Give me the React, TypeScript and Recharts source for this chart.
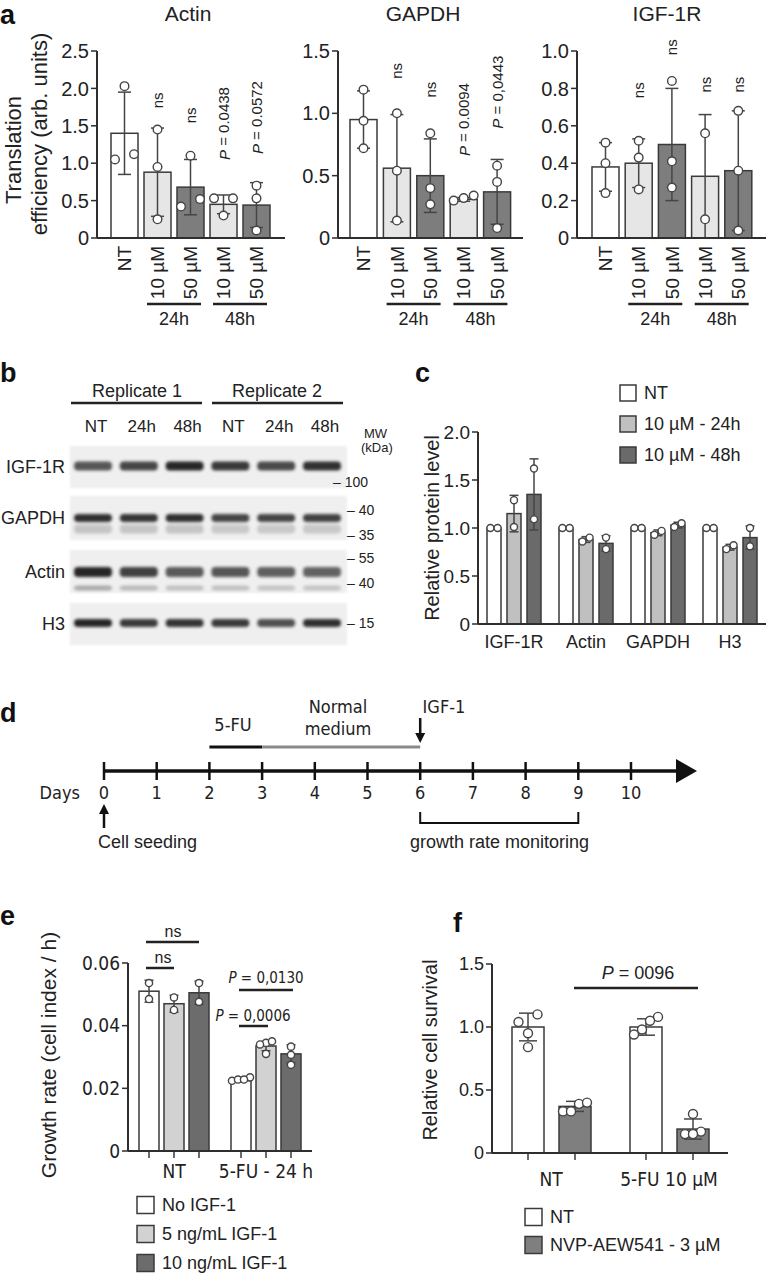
import React from 'react';
import { BarChart, Bar, XAxis, YAxis } from 'recharts';

const F = '"Liberation Sans", Arial, Helvetica, sans-serif';
const FN = '"Liberation Sans Narrow", "Arial Narrow", "DejaVu Sans Condensed", sans-serif';
const INK = '#222';
const EDGE = '#3a3a3a';

// ---------- panel a : translation efficiency ----------
const aKeys = ['NT', '10-24', '50-24', '10-48', '50-48'];
const aTickLabels = ['NT', '10 µM', '50 µM', '10 µM', '50 µM'];
const aGroupLabels = ['24h', '48h'];

const actinMean = [1.4, 0.88, 0.68, 0.45, 0.44];
const actinSd = [0.55, 0.59, 0.37, 0.125, 0.3];
const actinPts = [[2.03, 1.05, 1.12], [1.45, 0.95, 0.25], [1.1, 0.42, 0.52], [0.53, 0.53, 0.3], [0.7, 0.53, 0.1]];
const actinNote = ['', 'ns', 'ns', 'P = 0.0438', 'P = 0.0572'];
const actinNoteAt = [0, 1.84, 1.64, 1.53, 1.61];

const gapdhMean = [0.95, 0.56, 0.5, 0.31, 0.37];
const gapdhSd = [0.23, 0.43, 0.295, 0.015, 0.26];
const gapdhPts = [[1.19, 0.94, 0.72], [1.0, 0.54, 0.14], [0.84, 0.4, 0.27], [0.3, 0.34, 0.32], [0.58, 0.45, 0.08]];
const gapdhNote = ['', 'ns', 'ns', 'P = 0.0094', 'P = 0,0443'];
const gapdhNoteAt = [0, 1.34, 1.19, 0.95, 1.17];

const igfMean = [0.38, 0.4, 0.5, 0.33, 0.36];
const igfSd = [0.13, 0.13, 0.3, 0.33, 0.32];
const igfPts = [[0.51, 0.4, 0.24], [0.52, 0.43, 0.26], [0.84, 0.41, 0.27], [0.56, 0.1], [0.68, 0.36, 0.04]];
const igfNote = ['', 'ns', 'ns', 'ns', 'ns'];
const igfNoteAt = [0, 0.79, 1.02, 0.82, 0.82];

// ---------- panel b : western blot ----------
const laneLabels = ['NT', '24h', '48h', 'NT', '24h', '48h'];
const replicateLabels = ['Replicate 1', 'Replicate 2'];
const igfBand = [0.72, 0.8, 0.95, 0.86, 0.78, 0.9];
const gapdhBand = [0.9, 0.88, 0.9, 0.8, 0.8, 0.82];
const actinBand = [0.95, 0.82, 0.7, 0.72, 0.68, 0.66];
const actinLowBand = [0.32, 0.25, 0.22, 0.22, 0.2, 0.2];
const h3Band = [0.95, 0.85, 0.88, 0.85, 0.75, 0.9];

// ---------- panel c : relative protein level ----------
const cCats = ['IGF-1R', 'Actin', 'GAPDH', 'H3'];
const cNtMean = [1, 1, 1, 1];
const cNtSd = [0, 0, 0, 0];
const cNtPts = [[1, 1], [1, 1], [1, 1], [1, 1]];
const c24Mean = [1.15, 0.88, 0.95, 0.8];
const c24Sd = [0.19, 0.03, 0.03, 0.03];
const c24Pts = [[1.29, 1.01], [0.9, 0.86], [0.97, 0.93], [0.82, 0.78]];
const c48Mean = [1.35, 0.84, 1.03, 0.9];
const c48Sd = [0.37, 0.08, 0.03, 0.12];
const c48Pts = [[1.62, 1.09], [0.9, 0.78], [1.05, 1.01], [1.0, 0.81]];
const cLegend = ['NT', '10 µM - 24h', '10 µM - 48h'];

// ---------- panel d : timeline ----------
const days = [0, 1, 2, 3, 4, 5, 6, 7, 8, 9, 10];

// ---------- panel e : growth rate ----------
const eCats = ['NT', '5-FU - 24 h'];
const eNoMean = [0.051, 0.0225];
const eNoSd = [0.0035, 0.0005];
const eNoPts = [[0.0536, 0.0485], [0.0224, 0.0228, 0.0235, 0.0228]];
const e5Mean = [0.047, 0.0335];
const e5Sd = [0.0027, 0.0015];
const e5Pts = [[0.049, 0.045], [0.0345, 0.035, 0.034, 0.031]];
const e10Mean = [0.0505, 0.031];
const e10Sd = [0.0037, 0.0029];
const e10Pts = [[0.0536, 0.0476], [0.0333, 0.0307, 0.0275]];
const eLegend = ['No IGF-1', '5 ng/mL IGF-1', '10 ng/mL IGF-1'];

// ---------- panel f : cell survival ----------
const fCats = ['NT', '5-FU 10 µM'];
const fNtMean = [1.0, 1.0];
const fNtSd = [0.11, 0.065];
const fNtPts = [[1.04, 1.1, 0.95, 0.84], [1.08, 1.05, 0.98, 0.94]];
const fNvpMean = [0.37, 0.19];
const fNvpSd = [0.04, 0.08];
const fNvpPts = [[0.39, 0.4, 0.33, 0.33], [0.31, 0.17, 0.15, 0.15]];
const fLegend = ['NT', 'NVP-AEW541 - 3 µM'];

const GREY = {
  white: '#ffffff',
  aLight: '#e6e6e6',
  aDark: '#7d7d7d',
  cLight: '#c0c0c0',
  cDark: '#6a6a6a',
  eLight: '#d2d2d2',
  eDark: '#6c6c6c',
  fDark: '#7f7f7f',
};
const aFills = [GREY.white, GREY.aLight, GREY.aDark, GREY.aLight, GREY.aDark];

// spread overlapping dots sideways (cluster-based jitter)
function jitter(ys: number[], vals: number[], r: number, spread: number, pair: number) {
  const order = vals.map((_, i) => i).sort((a, b) => vals[a] - vals[b]);
  const clusters: number[][] = [];
  order.forEach((i) => {
    const last = clusters[clusters.length - 1];
    if (last && Math.abs(ys[last[last.length - 1]] - ys[i]) < 2 * r + 0.5) last.push(i);
    else clusters.push([i]);
  });
  const off = vals.map(() => 0);
  clusters.forEach((c) => {
    const k = c.length;
    c.forEach((i, j) => {
      off[i] = k === 2 ? (j === 0 ? -pair : pair) : (j - (k - 1) / 2) * spread;
    });
  });
  return off;
}

function DotBar(p: any) {
  const { x, y, width, height, payload, index, s, st } = p;
  const row = payload;
  const mean = row[s.mean];
  const base = y + height;
  const k = mean ? height / mean : 0;
  const Y = (v: number) => base - v * k;
  const cx = x + width / 2;
  const sd = row[s.sd] || 0;
  const pts: number[] = row[s.pts] || [];
  const ys = pts.map(Y);
  const off = jitter(ys, pts, st.r, st.spread, st.pair);
  const fill = s.fills ? s.fills[index] : s.fill;
  const note = s.note ? row[s.note] : '';
  return (
    <g>
      <rect x={x} y={y} width={width} height={height} fill={fill} stroke={EDGE} strokeWidth={1.5} />
      {st.xTick && <line x1={cx} x2={cx} y1={base} y2={base + 7} stroke={EDGE} strokeWidth={1.5} />}
      {sd > 0 && (
        <g stroke="#454545" strokeWidth={1.5}>
          <line x1={cx} x2={cx} y1={Y(mean + sd)} y2={Y(mean - sd)} />
          <line x1={cx - st.cap} x2={cx + st.cap} y1={Y(mean + sd)} y2={Y(mean + sd)} />
          <line x1={cx - st.cap} x2={cx + st.cap} y1={Y(mean - sd)} y2={Y(mean - sd)} />
        </g>
      )}
      {ys.map((yy, i) => (
        <circle key={i} cx={cx + off[i]} cy={yy} r={st.r} fill="#fff" stroke="#454545" strokeWidth={1.4} />
      ))}
      {note && (
        <text
          transform={`translate(${cx},${Y(row[s.noteAt])}) rotate(-90)`}
          textAnchor="middle"
          dominantBaseline="central"
          fontSize={15}
          fontFamily={F}
          fill={INK}
        >
          {note.startsWith('P') ? (
            <>
              <tspan fontStyle="italic">P</tspan>
              {note.slice(1)}
            </>
          ) : (
            note
          )}
        </text>
      )}
    </g>
  );
}

function ATick(p: any) {
  const { x, y, payload } = p;
  const i = aKeys.indexOf(payload.value);
  const g = i === 1 ? 0 : i === 3 ? 1 : -1;
  return (
    <g>
      <text
        transform={`translate(${x},${y}) rotate(-90)`}
        textAnchor="end"
        dominantBaseline="central"
        fontSize={19}
        fontFamily={F}
        fill={INK}
      >
        {aTickLabels[i]}
      </text>
      {g >= 0 && (
        <g>
          <line x1={x - 10.5} x2={x + 43.5} y1={y + 58} y2={y + 58} stroke={INK} strokeWidth={2.5} />
          <text x={x + 16.5} y={y + 79} textAnchor="middle" fontSize={18} fontFamily={F} fill={INK}>
            {aGroupLabels[g]}
          </text>
        </g>
      )}
    </g>
  );
}

type Lay = { pl: number; pt: number; pr: number; pb: number; yw: number; xh: number };

const TOPM = 30;

function BarPanel(props: any) {
  const { rows, series, lay, yDomain, yTicks, yFmt, xTick, tickMargin, st, barSize, barGap, pad, yFont, yFam } = props;
  const l: Lay = lay;
  const left = l.pl - l.yw;
  const top = l.pt - TOPM;
  const width = l.pr - left + 10;
  const height = l.pb - top + l.xh + 10;
  return (
    <div style={{ position: 'absolute', left, top }}>
      <BarChart
        width={width}
        height={height}
        data={rows}
        margin={{ top: TOPM, right: 10, bottom: 10, left: 0 }}
        barSize={barSize}
        barGap={barGap}
      >
        <XAxis
          dataKey="key"
          height={l.xh}
          axisLine={{ stroke: '#2e2e2e', strokeWidth: 2 }}
          tickLine={false}
          tick={xTick}
          tickMargin={tickMargin}
          interval={0}
          padding={pad}
        />
        <YAxis
          width={l.yw}
          domain={yDomain}
          ticks={yTicks}
          interval={0}
          tickFormatter={yFmt}
          axisLine={{ stroke: '#2e2e2e', strokeWidth: 2 }}
          tickLine={{ stroke: '#2e2e2e', strokeWidth: 1.5 }}
          tickSize={6}
          tick={{ fontSize: yFont, fill: INK, fontFamily: yFam }}
        />
        {series.map((s: any) => (
          <Bar
            key={s.mean}
            dataKey={s.mean}
            isAnimationActive={false}
            shape={(bp: any) => <DotBar {...bp} s={s} st={st} />}
          />
        ))}
      </BarChart>
    </div>
  );
}

const fmt1 = (v: number) => (v === 0 ? '0' : v.toFixed(1));
const fmt2 = (v: number) => (v === 0 ? '0' : v.toFixed(2));

function aRows(mean: number[], sd: number[], pts: number[][], note: string[], noteAt: number[]) {
  return aKeys.map((key, i) => ({ key, mean: mean[i], sd: sd[i], pts: pts[i], note: note[i], noteAt: noteAt[i] }));
}

const aSeries = [{ mean: 'mean', sd: 'sd', pts: 'pts', fills: aFills, note: 'note', noteAt: 'noteAt' }];
const aStyle = { r: 4.3, cap: 6.5, spread: 10, pair: 9.5, xTick: false };
const aPad = { left: 11, right: 12 };

const cRows = cCats.map((key, i) => ({
  key,
  nt: cNtMean[i], ntSd: cNtSd[i], ntPts: cNtPts[i],
  d24: c24Mean[i], d24Sd: c24Sd[i], d24Pts: c24Pts[i],
  d48: c48Mean[i], d48Sd: c48Sd[i], d48Pts: c48Pts[i],
}));
const cSeries = [
  { mean: 'nt', sd: 'ntSd', pts: 'ntPts', fill: GREY.white },
  { mean: 'd24', sd: 'd24Sd', pts: 'd24Pts', fill: GREY.cLight },
  { mean: 'd48', sd: 'd48Sd', pts: 'd48Pts', fill: GREY.cDark },
];
const cFills = [GREY.white, GREY.cLight, GREY.cDark];

const eRows = eCats.map((key, i) => ({
  key,
  no: eNoMean[i], noSd: eNoSd[i], noPts: eNoPts[i],
  g5: e5Mean[i], g5Sd: e5Sd[i], g5Pts: e5Pts[i],
  g10: e10Mean[i], g10Sd: e10Sd[i], g10Pts: e10Pts[i],
}));
const eSeries = [
  { mean: 'no', sd: 'noSd', pts: 'noPts', fill: GREY.white },
  { mean: 'g5', sd: 'g5Sd', pts: 'g5Pts', fill: GREY.eLight },
  { mean: 'g10', sd: 'g10Sd', pts: 'g10Pts', fill: GREY.eDark },
];
const eFills = [GREY.white, GREY.eLight, GREY.eDark];

const fRows = fCats.map((key, i) => ({
  key,
  nt: fNtMean[i], ntSd: fNtSd[i], ntPts: fNtPts[i],
  nvp: fNvpMean[i], nvpSd: fNvpSd[i], nvpPts: fNvpPts[i],
}));
const fSeries = [
  { mean: 'nt', sd: 'ntSd', pts: 'ntPts', fill: GREY.white },
  { mean: 'nvp', sd: 'nvpSd', pts: 'nvpPts', fill: GREY.fDark },
];
const fFills = [GREY.white, GREY.fDark];

function PanelLetter({ x, y, t }: { x: number; y: number; t: string }) {
  return (
    <text x={x} y={y} fontSize={27} fontWeight="bold" fontFamily={F} fill="#111">
      {t}
    </text>
  );
}

function VLabel({ x, y, t, size }: { x: number; y: number; t: string; size: number }) {
  return (
    <text transform={`translate(${x},${y}) rotate(-90)`} textAnchor="middle" dominantBaseline="central" fontSize={size} fontFamily={F} fill={INK}>
      {t}
    </text>
  );
}

function LegendBox({ x, y, size, fill, label, font }: any) {
  return (
    <g>
      <rect x={x} y={y - size / 2} width={size} height={size} fill={fill} stroke={EDGE} strokeWidth={1.5} />
      <text x={x + size + 8} y={y + font * 0.36} fontSize={font} fontFamily={F} fill={INK}>
        {label}
      </text>
    </g>
  );
}

function Blot() {
  const laneX = laneLabels.map((_, i) => 93 + i * 45.8);
  const strips = [
    { name: 'IGF-1R', top: 446, h: 42, bands: [{ v: igfBand, y: 466, h: 9 }] },
    { name: 'GAPDH', top: 496, h: 44, bands: [{ v: gapdhBand, y: 518, h: 8 }, { v: gapdhBand.map((v) => v * 0.22), y: 529, h: 9 }] },
    { name: 'Actin', top: 550, h: 43, bands: [{ v: actinBand, y: 572, h: 10 }, { v: actinLowBand, y: 588, h: 5 }] },
    { name: 'H3', top: 603, h: 42, bands: [{ v: h3Band, y: 623, h: 8 }] },
  ];
  const mw = [
    { t: '– 100', x: 333, y: 482 },
    { t: '– 40', x: 347, y: 510 },
    { t: '– 35', x: 347, y: 535 },
    { t: '– 55', x: 347, y: 558 },
    { t: '– 40', x: 347, y: 583 },
    { t: '– 15', x: 347, y: 623 },
  ];
  return (
    <g fontFamily={F} fill={INK}>
      <defs>
        <filter id="blur" x="-20%" y="-80%" width="140%" height="260%">
          <feGaussianBlur stdDeviation="1.8" />
        </filter>
        <filter id="soft">
          <feGaussianBlur stdDeviation="1" />
        </filter>
      </defs>
      {replicateLabels.map((t, i) => (
        <g key={t}>
          <text x={137 + i * 140} y={397} textAnchor="middle" fontSize={18}>{t}</text>
          <line x1={71 + i * 141} x2={202 + i * 141} y1={403} y2={403} stroke={INK} strokeWidth={2.5} />
        </g>
      ))}
      {laneLabels.map((t, i) => (
        <text key={i} x={laneX[i] + 3} y={432} textAnchor="middle" fontSize={17}>{t}</text>
      ))}
      <text x={364} y={438} fontSize={13}>MW</text>
      <text x={361} y={452} fontSize={13}>(kDa)</text>
      {strips.map((s) => (
        <g key={s.name}>
          <rect x={70} y={s.top} width={277} height={s.h} fill="#efefef" filter="url(#soft)" />
          <text x={65} y={s.top + s.h / 2 + 6} textAnchor="end" fontSize={18}>{s.name}</text>
          {s.bands.map((b, bi) =>
            b.v.map((v, i) => (
              <rect
                key={`${bi}-${i}`}
                x={laneX[i] - 19}
                y={b.y - b.h / 2}
                width={38}
                height={b.h}
                rx={4}
                fill="#1c1c1c"
                opacity={v}
                filter="url(#blur)"
              />
            ))
          )}
        </g>
      ))}
      {mw.map((m, i) => (
        <text key={i} x={m.x} y={m.y + 5} fontSize={14}>{m.t}</text>
      ))}
    </g>
  );
}

function Timeline() {
  const dx = (d: number) => 104 + d * 52.7;
  const ay = 771;
  return (
    <g fontFamily={FN} fill={INK}>
      <line x1={dx(0)} x2={678} y1={ay} y2={ay} stroke="#111" strokeWidth={3.5} />
      <polygon points={`676,759 676,783 697,${ay}`} fill="#111" />
      {days.map((d) => (
        <g key={d}>
          <line x1={dx(d)} x2={dx(d)} y1={ay - 9} y2={ay + 9} stroke="#111" strokeWidth={2.5} />
          <text x={dx(d)} y={799} textAnchor="middle" fontSize={18}>{d}</text>
        </g>
      ))}
      <text x={80} y={799} textAnchor="end" fontSize={18}>Days</text>
      <line x1={dx(2)} x2={dx(3)} y1={747} y2={747} stroke="#111" strokeWidth={3} />
      <line x1={dx(3)} x2={dx(6)} y1={747} y2={747} stroke="#8a8a8a" strokeWidth={3} />
      <text x={233} y={731} textAnchor="middle" fontSize={18}>5-FU</text>
      <text x={338} y={713} textAnchor="middle" fontSize={18}>Normal</text>
      <text x={338} y={735} textAnchor="middle" fontSize={18}>medium</text>
      <text x={444} y={713} textAnchor="middle" fontSize={18}>IGF-1</text>
      <line x1={dx(6)} x2={dx(6)} y1={718} y2={736} stroke="#111" strokeWidth={2.5} />
      <polygon points={`${dx(6) - 5},733 ${dx(6) + 5},733 ${dx(6)},743`} fill="#111" />
      <line x1={dx(0)} x2={dx(0)} y1={828} y2={811} stroke="#111" strokeWidth={2.5} />
      <polygon points={`${dx(0) - 5},814 ${dx(0) + 5},814 ${dx(0)},804`} fill="#111" />
      <text x={98} y={848} fontSize={18} fontFamily={F}>Cell seeding</text>
      <polyline
        points={`${dx(6)},812 ${dx(6)},823 ${dx(9)},823 ${dx(9)},812`}
        fill="none"
        stroke="#111"
        strokeWidth={2}
      />
      <text x={410} y={848} fontSize={18} fontFamily={F}>growth rate monitoring</text>
    </g>
  );
}

function SigP({ x, y, t, size, fam }: any) {
  return (
    <text x={x} y={y} textAnchor="middle" fontSize={size} fontFamily={fam} fill={INK}>
      <tspan fontStyle="italic">P</tspan>
      {t}
    </text>
  );
}

export default function App() {
  return (
    <div style={{ position: 'absolute', left: 0, top: 0, width: 768, height: 1274, background: '#fff', fontFamily: F }}>
      {/* a */}
      <BarPanel
        rows={aRows(actinMean, actinSd, actinPts, actinNote, actinNoteAt)}
        series={aSeries}
        lay={{ pl: 97, pt: 51, pr: 285, pb: 238, yw: 60, xh: 92 }}
        yDomain={[0, 2.5]}
        yTicks={[0, 0.5, 1, 1.5, 2, 2.5]}
        yFmt={fmt1}
        yFont={20}
        yFam={F}
        xTick={<ATick />}
        st={aStyle}
        barSize={27}
        pad={aPad}
      />
      <BarPanel
        rows={aRows(gapdhMean, gapdhSd, gapdhPts, gapdhNote, gapdhNoteAt)}
        series={aSeries}
        lay={{ pl: 338, pt: 51, pr: 523, pb: 238, yw: 60, xh: 92 }}
        yDomain={[0, 1.5]}
        yTicks={[0, 0.5, 1, 1.5]}
        yFmt={fmt1}
        yFont={20}
        yFam={F}
        xTick={<ATick />}
        st={aStyle}
        barSize={27}
        pad={{ left: 9, right: 9 }}
      />
      <BarPanel
        rows={aRows(igfMean, igfSd, igfPts, igfNote, igfNoteAt)}
        series={aSeries}
        lay={{ pl: 577, pt: 51, pr: 766, pb: 238, yw: 60, xh: 92 }}
        yDomain={[0, 1]}
        yTicks={[0, 0.2, 0.4, 0.6, 0.8, 1]}
        yFmt={fmt1}
        yFont={20}
        yFam={F}
        xTick={<ATick />}
        st={aStyle}
        barSize={27}
        pad={{ left: 12, right: 11 }}
      />
      {/* c */}
      <BarPanel
        rows={cRows}
        series={cSeries}
        lay={{ pl: 478, pt: 432, pr: 766, pb: 624, yw: 50, xh: 40 }}
        yDomain={[0, 2]}
        yTicks={[0, 0.5, 1, 1.5, 2]}
        yFmt={fmt1}
        yFont={19}
        yFam={F}
        xTick={{ fontSize: 18, fill: INK, fontFamily: F }}
        tickMargin={5}
        st={{ r: 3.5, cap: 4.5, spread: 7, pair: 3.6, xTick: false }}
        barSize={14}
        barGap={6}
      />
      {/* e */}
      <BarPanel
        rows={eRows}
        series={eSeries}
        lay={{ pl: 128, pt: 963, pr: 312, pb: 1151, yw: 70, xh: 40 }}
        yDomain={[0, 0.06]}
        yTicks={[0, 0.02, 0.04, 0.06]}
        yFmt={fmt2}
        yFont={19}
        yFam={FN}
        xTick={{ fontSize: 19, fill: INK, fontFamily: FN }}
        tickMargin={8}
        st={{ r: 3.6, cap: 4.5, spread: 6, pair: 5, xTick: true }}
        barSize={20}
        barGap={5}
      />
      {/* f */}
      <BarPanel
        rows={fRows}
        series={fSeries}
        lay={{ pl: 492, pt: 964, pr: 728, pb: 1153, yw: 50, xh: 45 }}
        yDomain={[0, 1.5]}
        yTicks={[0, 0.5, 1, 1.5]}
        yFmt={fmt1}
        yFont={18}
        yFam={F}
        xTick={{ fontSize: 19, fill: INK, fontFamily: FN }}
        tickMargin={14}
        st={{ r: 4.5, cap: 9, spread: 8, pair: 9.5, xTick: true }}
        barSize={32}
        barGap={15}
      />
      <svg width={768} height={1274} style={{ position: 'absolute', left: 0, top: 0, pointerEvents: 'none' }}>
        {/* a */}
        <PanelLetter x={0} y={24} t="a" />
        <text x={188} y={21} textAnchor="middle" fontSize={21} fontFamily={F} fill={INK}>Actin</text>
        <text x={423} y={21} textAnchor="middle" fontSize={21} fontFamily={F} fill={INK}>GAPDH</text>
        <text x={667} y={21} textAnchor="middle" fontSize={21} fontFamily={F} fill={INK}>IGF-1R</text>
        <VLabel x={13} y={150} t="Translation" size={22} />
        <VLabel x={39} y={134} t="efficiency (arb. units)" size={22} />
        {/* b */}
        <PanelLetter x={0} y={382} t="b" />
        <Blot />
        {/* c */}
        <PanelLetter x={415} y={382} t="c" />
        <VLabel x={432} y={528} t="Relative protein level" size={20} />
        {cLegend.map((t, i) => (
          <LegendBox key={t} x={620} y={393 + i * 31} size={16} fill={cFills[i]} label={t} font={18} />
        ))}
        {/* d */}
        <PanelLetter x={0} y={722} t="d" />
        <Timeline />
        {/* e */}
        <PanelLetter x={0} y={925} t="e" />
        <VLabel x={48} y={1055} t="Growth rate (cell index / h)" size={21} />
        <g stroke={INK} strokeWidth={2.5}>
          <line x1={146} x2={199} y1={942} y2={942} />
          <line x1={146} x2={174} y1={968} y2={968} />
          <line x1={239} x2={293} y1={990} y2={990} />
          <line x1={239} x2={268} y1={1026} y2={1026} />
        </g>
        <text x={173} y={937} textAnchor="middle" fontSize={16} fontFamily={F} fill={INK}>ns</text>
        <text x={163} y={963} textAnchor="middle" fontSize={16} fontFamily={F} fill={INK}>ns</text>
        <SigP x={266} y={983} t=" = 0,0130" size={15} fam={FN} />
        <SigP x={253} y={1021} t=" = 0,0006" size={15} fam={FN} />
        {eLegend.map((t, i) => (
          <LegendBox key={t} x={137} y={1205 + i * 29} size={17} fill={eFills[i]} label={t} font={18} />
        ))}
        {/* f */}
        <PanelLetter x={453} y={932} t="f" />
        <VLabel x={430} y={1050} t="Relative cell survival" size={20} />
        <line x1={574} x2={698} y1={988} y2={988} stroke={INK} strokeWidth={2.5} />
        <SigP x={638} y={979} t=" = 0096" size={18} fam={F} />
        {fLegend.map((t, i) => (
          <LegendBox key={t} x={525} y={1217 + i * 28} size={17} fill={fFills[i]} label={t} font={18} />
        ))}
      </svg>
    </div>
  );
}
